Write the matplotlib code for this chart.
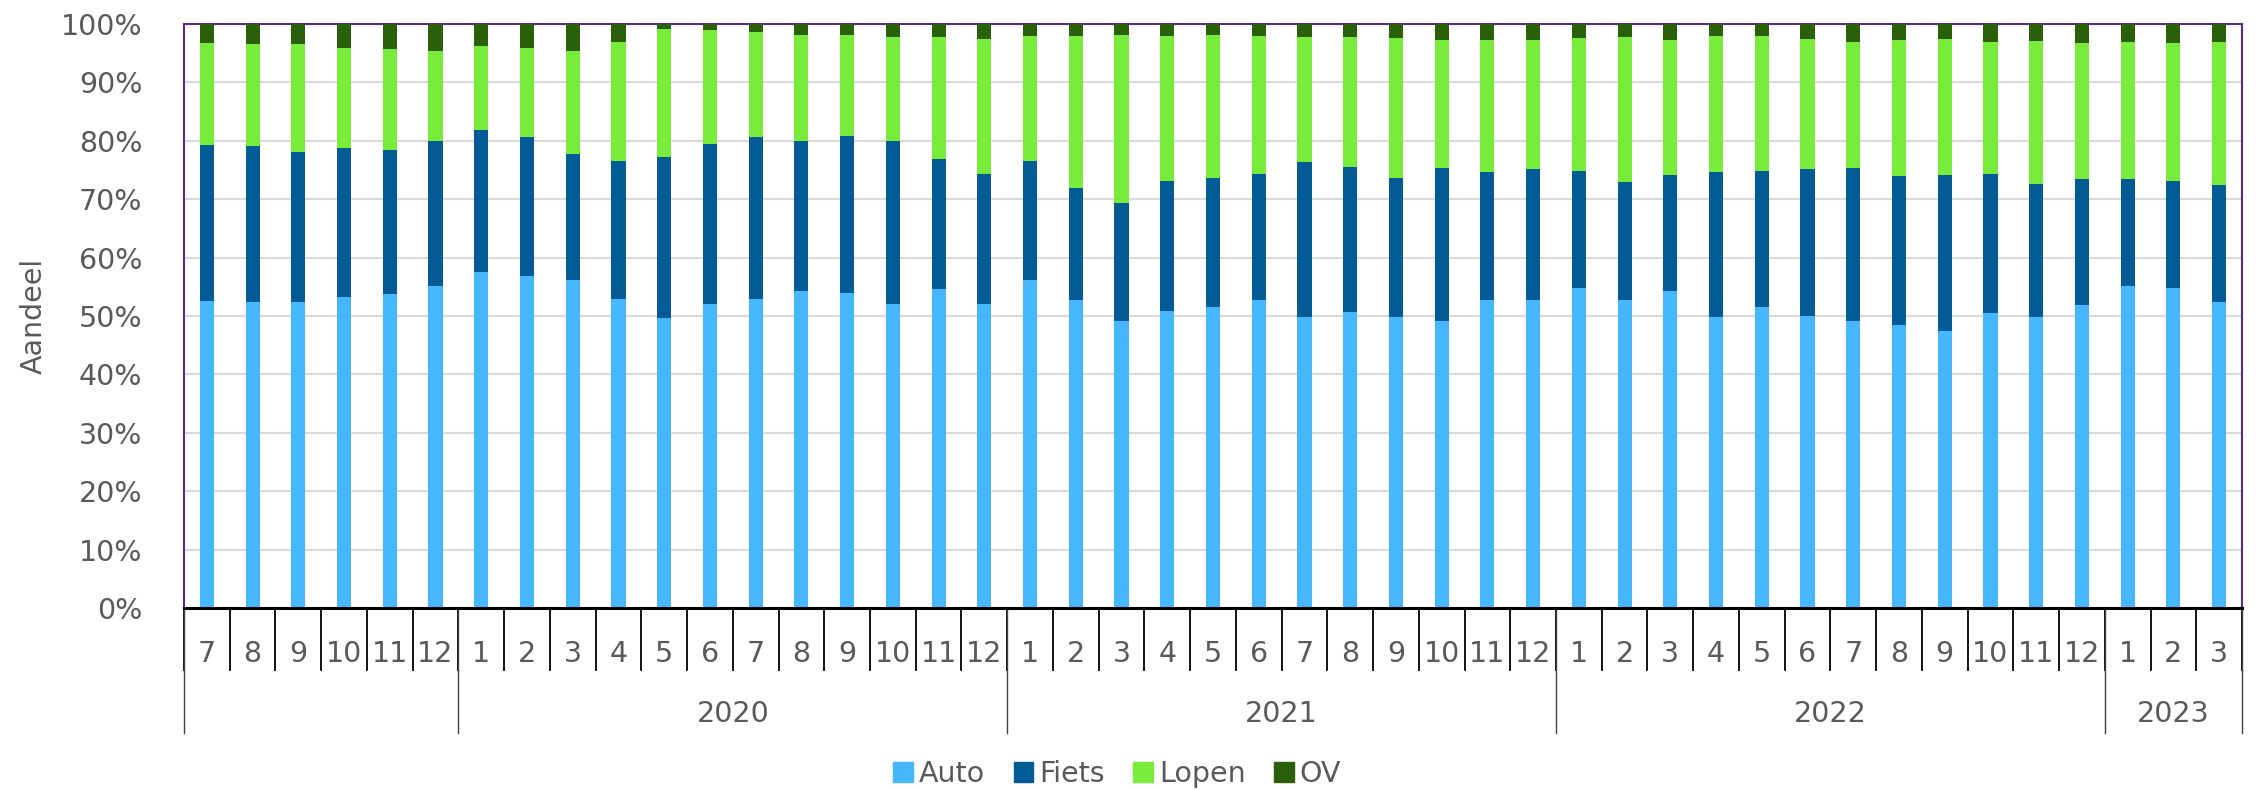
import numpy as np
import matplotlib
matplotlib.use("Agg")
import matplotlib.pyplot as plt
import matplotlib.transforms as mtransforms
from matplotlib.patches import Patch

# month labels and year groups
months = [7, 8, 9, 10, 11, 12] + list(range(1, 13)) * 3 + [1, 2, 3]
years = ["", "2020", "2021", "2022", "2023"]
year_sizes = [6, 12, 12, 12, 3]

# cumulative tops (%), OV fills to 100
auto = [52.5, 52.4, 52.4, 53.2, 53.8, 55.2,
        57.6, 56.9, 56.2, 52.9, 49.7, 52.1, 52.9, 54.2, 54.0, 52.1, 54.7, 52.1,
        56.1, 52.7, 49.1, 50.9, 51.5, 52.7, 49.9, 50.6, 49.9, 49.2, 52.8, 52.8,
        54.8, 52.8, 54.2, 49.9, 51.6, 50.0, 49.2, 48.4, 47.5, 50.5, 49.9, 51.8,
        55.1, 54.8, 52.4]
fiets_top = [79.3, 79.1, 78.1, 78.8, 78.4, 79.9,
             81.8, 80.6, 77.7, 76.6, 77.2, 79.5, 80.7, 79.9, 80.9, 79.9, 76.9, 74.4,
             76.6, 71.9, 69.3, 73.2, 73.7, 74.4, 76.3, 75.5, 73.7, 75.3, 74.7, 75.1,
             74.9, 73.0, 74.1, 74.7, 74.8, 75.1, 75.3, 74.0, 74.1, 74.4, 72.6, 73.4,
             73.5, 73.2, 72.5]
lopen_top = [96.7, 96.6, 96.5, 95.9, 95.7, 95.4,
             96.3, 95.9, 95.3, 97.0, 99.1, 99.0, 98.6, 98.2, 98.1, 97.8, 97.7, 97.5,
             98.0, 98.0, 98.2, 98.0, 98.2, 98.0, 97.8, 97.7, 97.6, 97.3, 97.2, 97.2,
             97.6, 97.7, 97.2, 97.9, 97.9, 97.5, 96.9, 97.2, 97.4, 96.9, 97.1, 96.7,
             96.9, 96.7, 96.9]

auto = np.array(auto)
fiets = np.array(fiets_top) - auto
lopen = np.array(lopen_top) - np.array(fiets_top)
ov = 100 - np.array(lopen_top)

c_auto, c_fiets, c_lopen, c_ov = "#47B7FD", "#025B95", "#79EB3A", "#2B600A"
txt = "#595959"

plt.rcParams["font.family"] = "DejaVu Sans"
fs = 20.5

fig = plt.figure(figsize=(22.57, 7.90), dpi=100)
ax = fig.add_axes([184 / 2257, 1 - 608 / 790, (2242 - 184) / 2257, (608 - 24) / 790])

x = np.arange(len(months))
w = 0.31
ax.bar(x, auto, w, color=c_auto, zorder=3)
ax.bar(x, fiets, w, bottom=auto, color=c_fiets, zorder=3)
ax.bar(x, lopen, w, bottom=auto + fiets, color=c_lopen, zorder=3)
ax.bar(x, ov, w, bottom=auto + fiets + lopen, color=c_ov, zorder=3)

ax.set_xlim(-0.5, len(months) - 0.5)
ax.set_ylim(0, 100)
ax.set_yticks(range(0, 101, 10))
ax.set_yticklabels([f"{v}%" for v in range(0, 101, 10)], fontsize=fs, color=txt)
ax.tick_params(axis="y", length=0, pad=30)
ax.set_xticks([])
ax.yaxis.grid(True, color="#D9D9D9", lw=1.5, zorder=0)
ax.set_ylabel("Aandeel", fontsize=fs, color=txt, labelpad=9)

for s in ["top", "left", "right"]:
    ax.spines[s].set_color("#5B2A86")
    ax.spines[s].set_linewidth(1.5)
ax.spines["bottom"].set_color("black")
ax.spines["bottom"].set_linewidth(2.2)
ax.spines["bottom"].set_zorder(5)

# two-level category axis
trans = mtransforms.blended_transform_factory(ax.transData, ax.transAxes)
for i in range(len(months) + 1):
    ax.plot([i - 0.5, i - 0.5], [0, -0.107], color="black", lw=1.3,
            transform=trans, clip_on=False)
for i, m in enumerate(months):
    ax.text(i, -0.079, str(m), ha="center", va="center", fontsize=fs,
            color=txt, transform=trans)

edges = np.concatenate([[0], np.cumsum(year_sizes)]) - 0.5
for e in edges:
    ax.plot([e, e], [0, -0.214], color="#404040", lw=1.0,
            transform=trans, clip_on=False)
for y, a, b in zip(years, edges[:-1], edges[1:]):
    ax.text((a + b) / 2, -0.182, y, ha="center", va="center", fontsize=fs,
            color=txt, transform=trans)

handles = [Patch(color=c) for c in (c_auto, c_fiets, c_lopen, c_ov)]
fig.legend(handles, ["Auto", "Fiets", "Lopen", "OV"], loc="center",
           bbox_to_anchor=(0.495, 1 - 774 / 790), ncol=4, frameon=False,
           fontsize=fs, labelcolor=txt, handlelength=0.7, handleheight=0.7,
           handletextpad=0.2, columnspacing=1.0)

fig.savefig("out.png", dpi=100, facecolor="white")
